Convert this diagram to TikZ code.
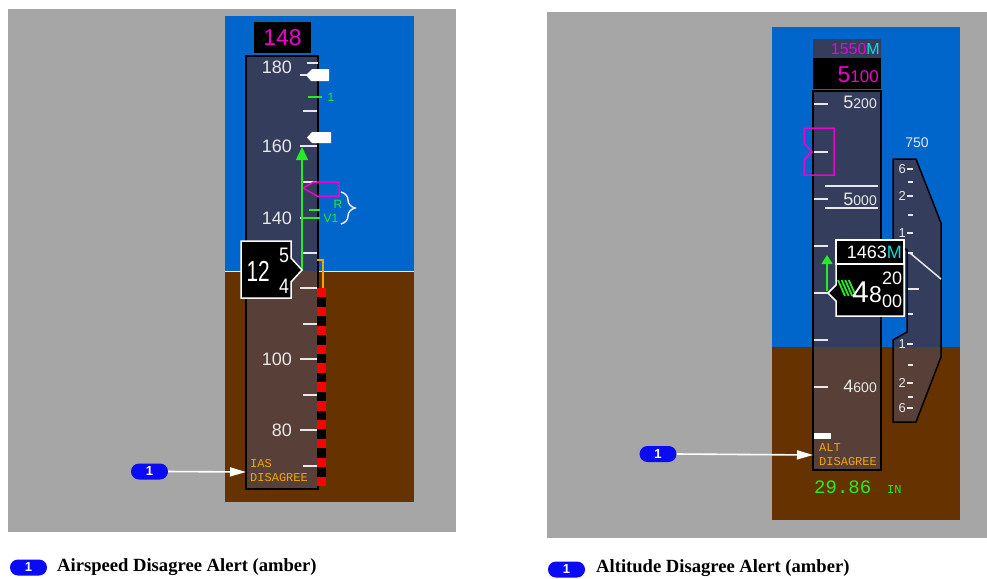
\documentclass[tikz,border=0pt]{standalone}
\usepackage{fontspec}
\setmainfont{Liberation Sans}
\newfontfamily\capfont{Liberation Serif}
\newfontfamily\pfdmono{Liberation Mono}
\usetikzlibrary{arrows.meta,decorations.pathreplacing}
\definecolor{panelgray}{HTML}{A6A6A6}
\definecolor{sky}{HTML}{0066CC}
\definecolor{ground}{HTML}{663300}
\definecolor{tapesky}{HTML}{353D5C}
\definecolor{tapegnd}{HTML}{583F37}
\definecolor{mag}{HTML}{F000D0}
\definecolor{grn}{HTML}{22EE22}
\definecolor{amber}{HTML}{F0A800}
\definecolor{cyn}{HTML}{00E0E0}
\definecolor{scalewhite}{HTML}{E8E8E8}
\definecolor{bubble}{HTML}{0A0AF5}
\newcommand{\myfs}[1]{\fontsize{#1}{#1}\selectfont}
\begin{document}
\begin{tikzpicture}[x=1pt,y=-1pt,
  tickline/.style={draw=scalewhite,line width=2pt},
  lbl/.style={text=scalewhite,inner sep=0pt,anchor=east,font=\myfs{18}},
  vsil/.style={text=scalewhite,inner sep=0pt,anchor=east,font=\myfs{13}},
  grnl/.style={text=grn,inner sep=0pt,font=\myfs{12}},
  alert/.style={text=amber,inner sep=0pt,anchor=west,font=\pfdmono\myfs{12}},
  bub/.style={fill=bubble,rounded corners=8pt,minimum width=37pt,minimum height=16pt,inner sep=0pt,text=white,font=\bfseries\myfs{13}},
  warrow/.style={draw=white,line width=1.6pt,-{Triangle[length=16pt,width=9pt]}},
  caption/.style={anchor=west,inner sep=0pt,font=\capfont\bfseries\myfs{18.6}}]
\path[use as bounding box] (0,0) rectangle (987,578);
\fill[white] (0,0) rectangle (987,578);
% ================= LEFT PANEL =================
\fill[panelgray] (8,9) rectangle (456,532);
\fill[sky] (225,16) rectangle (414,271);
\fill[ground] (225,271) rectangle (414,502);
\draw[white!85!gray,line width=1pt] (225,271) -- (414,271);
% speed tape
\fill[tapesky] (246,56) rectangle (318,271);
\fill[tapegnd] (246,271) rectangle (318,489);
\draw[black,line width=1.5pt] (246,56) rectangle (318,489);
% barber pole
\fill[black] (317,288) rectangle (326,486);
\foreach \i in {0,2,...,20} \fill[red] (317,{288+\i*9.43}) rectangle (326,{288+(\i+1)*9.43});
% ticks
\foreach \y in {75,146,218,288,359,430} \draw[tickline] (300,\y) -- (317,\y);
\foreach \y in {111,182,253,324,395,466} \draw[tickline] (303,\y) -- (317,\y);
\draw[tickline] (307,63) -- (318,63);
\node[lbl] (s180) at (292,67) {180};
\node[lbl] (s160) at (292,146) {160};
\node[lbl] (s140) at (292,218) {140};
\node[lbl] (s100) at (292,359) {100};
\node[lbl] (s80) at (292,430) {80};
% white bugs
\fill[white] (312,69) -- (329,69) -- (329,81) -- (311,81) -- (306,75) -- cycle;
\fill[white] (312,132) -- (331,132) -- (331,143) -- (312,143) -- (307,137.5) -- cycle;
% green bug 1, R, V1
\draw[grn,line width=1.5pt] (308,97) -- (322,97);
\node[grnl] (g1) at (331,97) {1};
\draw[grn,line width=1.5pt] (309,210) -- (320,210);
\node[grnl] (gR) at (338,204) {R};
\draw[grn,line width=1.5pt] (303,218) -- (320,218);
\node[grnl] (gV1) at (331,218) {V1};
\draw[scalewhite,line width=1.5pt,decorate,decoration={brace,amplitude=14pt,aspect=0.5}] (341,192) -- (341,224);
% magenta selected speed bug
\draw[mag,line width=1.5pt] (303,188) -- (314,182) -- (339,182) -- (339,196) -- (317,196) -- cycle;
% amber bracket
\draw[amber,line width=1.5pt] (317,260) -- (323,260) -- (323,288);
% speed trend
\draw[grn,line width=1.5pt,-{Triangle[length=13pt,width=12pt]}] (302,270) -- (302,147);
% current speed box
\filldraw[fill=black,draw=white,line width=1.5pt] (241,241) -- (291,241) -- (291,258) -- (302,270) -- (291,282) -- (291,298) -- (241,298) -- cycle;
\node[text=white,inner sep=0pt,anchor=east,font=\myfs{29}] (spd12) at (270,271) {\scalebox{0.72}[1]{12}};
\node[text=white,inner sep=0pt,font=\myfs{21}] (spd5) at (284,255) {\scalebox{0.85}[1]{5}};
\node[text=white,inner sep=0pt,font=\myfs{21}] (spd4) at (284,286) {\scalebox{0.85}[1]{4}};
% selected speed readout
\node[fill=black,text=mag,minimum width=57pt,minimum height=31pt,inner sep=0pt,font=\myfs{23}] (selspd) at (282.5,37.5) {148};
% alert text
\node[alert] (ias1) at (250,464) {IAS};
\node[alert] (ias2) at (250,478) {DISAGREE};
\coordinate (iastip) at (246,472);
\node[bub] (b1) at (149.5,471.5) {1};
\draw[warrow] (b1.east) -- (iastip);
% ================= RIGHT PANEL =================
\fill[panelgray] (547,12) rectangle (987,538);
\fill[sky] (772,27) rectangle (960,347);
\fill[ground] (772,347) rectangle (960,520);
% VSI
\begin{scope}
\clip (893,159) -- (916,159) -- (941,223) -- (941,357) -- (916,422) -- (893,422) -- (893,340) -- (907,332) -- (907,250) -- (893,242) -- cycle;
\fill[tapesky] (880,150) rectangle (950,347);
\fill[tapegnd] (880,347) rectangle (950,430);
\end{scope}
\draw[black,line width=1.5pt] (893,159) -- (916,159) -- (941,223) -- (941,357) -- (916,422) -- (893,422) -- (893,340) -- (907,332) -- (907,250) -- (893,242) -- cycle;
\foreach \t/\y in {6/169,2/196,1/233,1/344,2/383,6/408} {
  \node[vsil] at (906,\y) {\t};
  \draw[scalewhite,line width=1.5pt] (907,\y) -- (913,\y);
}
\foreach \y in {182,215,253,314,365,397} \draw[scalewhite,line width=1.5pt] (908,\y) -- (913,\y);
\draw[scalewhite,line width=2pt] (908,289) -- (919,289);
\draw[scalewhite,line width=1.5pt] (910,253) -- (941,279);
\node[text=scalewhite,inner sep=0pt,font=\myfs{14}] (v750) at (917,143) {750};
% altitude tape
\fill[tapesky] (813,91) rectangle (881,347);
\fill[tapegnd] (813,347) rectangle (881,470);
\draw[black,line width=1.5pt] (813,91) rectangle (881,470);
\foreach \y in {104,152,199,246,293,340,387} \draw[tickline] (814,\y) -- (828,\y);
\draw[scalewhite,line width=1.5pt] (825,186) -- (878,186);
\draw[scalewhite,line width=1.5pt] (825,208) -- (878,208);
\node[text=scalewhite,inner sep=0pt,anchor=base east] (a5200) at (877,108) {{\myfs{18}5}{\myfs{14}200}};
\node[text=scalewhite,inner sep=0pt,anchor=base east] (a5000) at (877,205) {{\myfs{18}5}{\myfs{14}000}};
\node[text=scalewhite,inner sep=0pt,anchor=base east] (a4600) at (877,392) {{\myfs{18}4}{\myfs{14}600}};
\fill[white] (814,433) rectangle (831,439);
% magenta altitude bug
\draw[mag,line width=1.5pt] (834,128) -- (804,128) -- (804,143) -- (812,152) -- (804,160) -- (804,175) -- (834,175) -- cycle;
% selected altitude readouts
\fill[tapesky] (813,39) rectangle (881,58);
\fill[black] (813,58) rectangle (881,89);
\node[inner sep=0pt,anchor=base east,font=\myfs{16}] (selm) at (880,55) {\textcolor{mag}{1550}\textcolor{cyn}{M}};
\node[text=mag,inner sep=0pt,anchor=base east] (selalt) at (879,82) {{\myfs{23}5}{\myfs{17}100}};
% current altitude box
\filldraw[fill=black,draw=white,line width=1.5pt] (836,240) rectangle (904,264);
\filldraw[fill=black,draw=white,line width=1.5pt] (836,264) -- (904,264) -- (904,316) -- (836,316) -- (836,301) -- (828,293) -- (836,285) -- cycle;
\node[inner sep=0pt,anchor=base east,font=\myfs{18}] (altm) at (902,258) {\textcolor{white}{1463}\textcolor{cyn}{M}};
\foreach \i in {0,1,2,3} \draw[grn,line width=1.8pt] ({838+3.6*\i},280) -- ({845+3.6*\i},296);
\node[text=white,inner sep=0pt,anchor=base west,font=\myfs{30}] (alt4) at (852,302) {4};
\node[text=white,inner sep=0pt,anchor=base west,font=\myfs{23}] (alt8) at (869,302) {8};
\node[text=white,inner sep=0pt,anchor=base west,font=\myfs{18}] (alt20) at (882,284) {20};
\node[text=white,inner sep=0pt,anchor=base west,font=\myfs{18}] (alt00) at (882,307) {00};
\draw[grn,line width=1.5pt,-{Triangle[length=9pt,width=11pt]}] (827,291) -- (827,255);
% alert + baro
\node[alert] (alt1) at (819,448) {ALT};
\node[alert] (alt2) at (819,462) {DISAGREE};
\node[text=grn,inner sep=0pt,anchor=base west,font=\pfdmono\myfs{19}] (baro) at (814,493) {29.86};
\node[text=grn,inner sep=0pt,anchor=base west,font=\pfdmono\myfs{12}] (baroin) at (887,493) {IN};
\coordinate (alttip) at (813,455);
\node[bub] (b2) at (658,454) {1};
\draw[warrow] (b2.east) -- (alttip);
% ================= CAPTIONS =================
\node[bub] (cb1) at (28.5,567.5) {1};
\node[caption] (cap1) at (57,567) {Airspeed Disagree Alert (amber)};
\node[bub] (cb2) at (566.5,569.5) {1};
\node[caption] (cap2) at (596,568.5) {Altitude Disagree Alert (amber)};
\end{tikzpicture}
\end{document}
